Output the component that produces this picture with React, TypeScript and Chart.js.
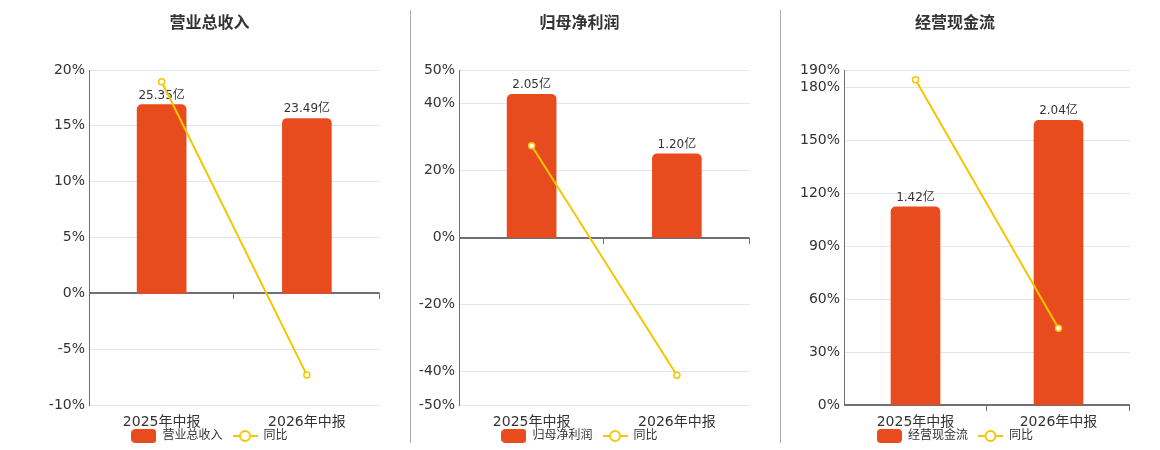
import React, { useEffect, useRef } from 'react';
import { Chart, registerables } from 'chart.js';

Chart.register(...registerables);

const FONT = '"DejaVu Sans", "Noto Sans CJK SC", sans-serif';
Chart.defaults.font.family = FONT;

const BAR_COLOR = '#E84C1E';
const LINE_COLOR = '#F3C700';

const periods = ['2025年中报', '2026年中报'];

const revenueValues = [25.35, 23.49];
const revenueYoy = [18.95, -7.32];
const revenueTicks = [-10, -5, 0, 5, 10, 15, 20];

const profitValues = [2.05, 1.2];
const profitYoy = [27.4, -41.1];
const profitTicks = [-50, -40, -20, 0, 20, 40, 50];

const cashValues = [1.42, 2.04];
const cashYoy = [184.5, 43.5];
const cashTicks = [0, 30, 60, 90, 120, 150, 180, 190];

function makeIcon(kind: 'bar' | 'line') {
  const c = document.createElement('canvas');
  c.width = 25;
  c.height = 14;
  const g = c.getContext('2d')!;
  if (kind === 'bar') {
    g.fillStyle = BAR_COLOR;
    g.beginPath();
    g.roundRect(0, 0, 25, 14, 4);
    g.fill();
  } else {
    g.strokeStyle = LINE_COLOR;
    g.lineWidth = 2;
    g.beginPath();
    g.moveTo(0, 7);
    g.lineTo(25, 7);
    g.stroke();
    g.fillStyle = '#fff';
    g.beginPath();
    g.arc(12.5, 7, 5, 0, Math.PI * 2);
    g.fill();
    g.stroke();
  }
  return c;
}

interface PanelProps {
  title: string;
  barLabel: string;
  values: number[];
  yoy: number[];
  ticks: number[];
  barRange: [number, number];
  left: number;
  width: number;
  axisWidth: number;
  padRight: number;
}

const Panel: React.FC<PanelProps> = ({ title, barLabel, values, yoy, ticks, barRange, left, width, axisWidth, padRight }) => {
  const ref = useRef<HTMLCanvasElement>(null);

  useEffect(() => {
    if (!ref.current) return;
    const barIcon = makeIcon('bar');
    const lineIcon = makeIcon('line');

    // value labels above the bars, drawn before the line so it passes over them
    const barLabels = {
      id: 'barLabels',
      afterDatasetDraw(chart: Chart, args: any) {
        if (args.index !== 0) return;
        const ctx = chart.ctx;
        ctx.save();
        ctx.font = `12px ${FONT}`;
        ctx.fillStyle = '#333';
        ctx.textAlign = 'center';
        ctx.textBaseline = 'alphabetic';
        args.meta.data.forEach((el: any, i: number) => {
          ctx.fillText(values[i].toFixed(2) + '亿', el.x, el.y - 6);
        });
        ctx.restore();
      },
    };

    // axis line on zero with category boundary ticks
    const zeroAxis = {
      id: 'zeroAxis',
      beforeDatasetsDraw(chart: Chart) {
        const { ctx, chartArea } = chart;
        const y0 = Math.round(chart.scales.y.getPixelForValue(0));
        ctx.save();
        ctx.strokeStyle = '#6E7079';
        ctx.lineWidth = 2;
        ctx.beginPath();
        ctx.moveTo(chartArea.left, y0);
        ctx.lineTo(chartArea.right, y0);
        ctx.stroke();
        ctx.lineWidth = 1;
        const n = chart.data.labels!.length;
        const step = (chartArea.right - chartArea.left) / n;
        for (let k = 1; k <= n; k++) {
          const x = Math.round(chartArea.left + k * step) - 0.5;
          ctx.beginPath();
          ctx.moveTo(x, y0);
          ctx.lineTo(x, y0 + 6);
          ctx.stroke();
        }
        ctx.restore();
      },
    };

    // legend sits a little into the x axis band, like the original
    const legendShift = {
      id: 'legendShift',
      afterLayout(chart: any) {
        chart.legend.top -= 9;
        chart.legend.bottom -= 9;
      },
    };

    const chart = new Chart(ref.current, {
      type: 'bar',
      data: {
        labels: periods,
        datasets: [
          {
            type: 'bar',
            label: barLabel,
            data: values,
            yAxisID: 'yBar',
            backgroundColor: BAR_COLOR,
            barThickness: 49,
            borderRadius: 5,
            order: 1,
          },
          {
            type: 'line',
            label: '同比',
            data: yoy,
            yAxisID: 'y',
            borderColor: LINE_COLOR,
            borderWidth: 2,
            pointRadius: 3,
            pointBorderWidth: 1.5,
            pointBackgroundColor: '#fff',
            pointBorderColor: LINE_COLOR,
            order: 0,
          } as any,
        ],
      },
      options: {
        animation: false,
        responsive: true,
        maintainAspectRatio: false,
        layout: { padding: { right: padRight } },
        scales: {
          x: {
            grid: { display: false },
            border: { display: false },
            ticks: { color: '#333', font: { size: 14 }, padding: 1 },
            afterFit: (s: any) => {
              s.height = 24;
              s.paddingLeft = 0;
              s.paddingRight = 0;
            },
          },
          y: {
            position: 'left',
            min: ticks[0],
            max: ticks[ticks.length - 1],
            afterBuildTicks: (s: any) => { s.ticks = ticks.map((v) => ({ value: v })); },
            grid: { color: '#E0E6F1', drawTicks: false },
            border: { display: true, color: '#6E7079', width: 1 },
            ticks: { color: '#333', font: { size: 14 }, padding: 4, callback: (v: any) => v + '%' },
            afterFit: (s: any) => { s.width = axisWidth; },
          },
          yBar: {
            display: false,
            min: barRange[0],
            max: barRange[1],
          },
        },
        plugins: {
          title: {
            display: true,
            text: title,
            color: '#333',
            font: { size: 16, weight: 'bold' },
            padding: { top: 14, bottom: 36.8 },
          },
          legend: {
            position: 'bottom',
            labels: {
              usePointStyle: true,
              pointStyleWidth: 25,
              padding: 10,
              color: '#333',
              font: { size: 12 },
              generateLabels: () => [
                { text: barLabel, pointStyle: barIcon, datasetIndex: 0, lineWidth: 0, strokeStyle: 'transparent', fillStyle: 'transparent', fontColor: '#333', hidden: false },
                { text: '同比', pointStyle: lineIcon, datasetIndex: 1, lineWidth: 0, strokeStyle: 'transparent', fillStyle: 'transparent', fontColor: '#333', hidden: false },
              ] as any,
            },
          },
          tooltip: { enabled: false },
        },
      },
      plugins: [zeroAxis, barLabels, legendShift],
    });

    return () => chart.destroy();
  }, [title, barLabel, values, yoy, ticks, barRange, axisWidth, padRight]);

  return (
    <div style={{ position: 'absolute', left, top: 0, width, height: 461 }}>
      <canvas ref={ref} />
    </div>
  );
};

const App: React.FC = () => (
  <div style={{ position: 'absolute', left: 0, top: 0, width: 1160, height: 450, overflow: 'hidden', background: '#fff' }}>
    <Panel title="营业总收入" barLabel="营业总收入" values={revenueValues} yoy={revenueYoy} ticks={revenueTicks}
      barRange={[-15, 30]} left={39} width={346} axisWidth={50} padRight={5} />
    <Panel title="归母净利润" barLabel="归母净利润" values={profitValues} yoy={profitYoy} ticks={profitTicks}
      barRange={[-2.4, 2.4]} left={409} width={346} axisWidth={50} padRight={5} />
    <Panel title="经营现金流" barLabel="经营现金流" values={cashValues} yoy={cashYoy} ticks={cashTicks}
      barRange={[0, 2.4]} left={780} width={360} axisWidth={64} padRight={10} />
    <div style={{ position: 'absolute', left: 410, top: 10, width: 1, height: 433, background: '#aaa' }} />
    <div style={{ position: 'absolute', left: 780, top: 10, width: 1, height: 433, background: '#aaa' }} />
  </div>
);

export default App;
